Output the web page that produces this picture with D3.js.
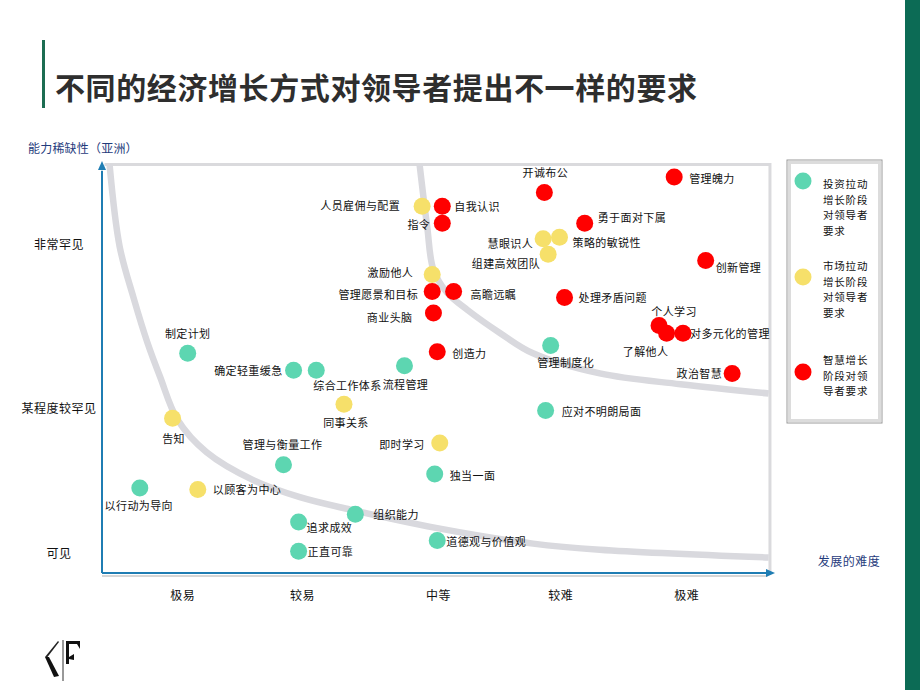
<!DOCTYPE html>
<html><head><meta charset="utf-8">
<script src="https://cdn.jsdelivr.net/npm/d3@7"></script>
<style>
body{margin:0;background:#fff}
svg{display:block}
text{font-family:"Noto Sans CJK SC","Noto Sans",sans-serif}
</style>
</head><body>
<svg id="c" width="920" height="690"></svg>
<script>
// ---------- data ----------
const titleText = "不同的经济增长方式对领导者提出不一样的要求";
const yAxisTitle = "能力稀缺性（亚洲）";
const xAxisTitle = "发展的难度";
const xTickLabels = ["极易", "较易", "中等", "较难", "极难"];
const xTickValues = [1, 1.95, 3.03, 4, 5];
const yTickLabels = ["可见", "某程度较罕见", "非常罕见"];
const yTickValues = [1, 1.94, 3];

const seriesKeys = ["invest", "market", "wisdom"];
const legendLines = [
  ["投资拉动", "增长阶段", "对领导者", "要求"],
  ["市场拉动", "增长阶段", "对领导者", "要求"],
  ["智慧增长", "阶段对领", "导者要求"]
];

// 投资拉动增长阶段对领导者要求
const investLabels = ["制定计划", "确定轻重缓急", "综合工作体系", "流程管理", "管理与衡量工作", "以行动为导向", "追求成效", "正直可靠", "组织能力", "道德观与价值观", "独当一面", "应对不明朗局面", "管理制度化"];
const investX = [1.04, 1.88, 2.06, 2.76, 1.80, 0.66, 1.92, 1.92, 2.37, 3.02, 3.00, 3.88, 3.92];
const investY = [2.29, 2.18, 2.18, 2.21, 1.57, 1.42, 1.20, 1.01, 1.25, 1.08, 1.51, 1.92, 2.34];

// 市场拉动增长阶段对领导者要求
const marketLabels = ["告知", "以顾客为中心", "同事关系", "即时学习", "人员雇佣与配置", "激励他人", "慧眼识人", "策略的敏锐性", "组建高效团队"];
const marketX = [0.92, 1.12, 2.28, 3.04, 2.90, 2.98, 3.86, 3.99, 3.90];
const marketY = [1.87, 1.41, 1.96, 1.71, 3.24, 2.80, 3.03, 3.04, 2.93];

// 智慧增长阶段对领导者要求
const wisdomLabels = ["自我认识", "指令", "开诚布公", "管理魄力", "勇于面对下属", "创新管理", "管理愿景和目标", "高瞻远瞩", "商业头脑", "创造力", "处理矛盾问题", "个人学习", "了解他人", "对多元化的管理", "政治智慧"];
const wisdomX = [3.06, 3.06, 3.87, 4.90, 4.19, 5.15, 2.98, 3.15, 2.99, 3.02, 4.03, 4.78, 4.84, 4.97, 5.36];
const wisdomY = [3.24, 3.13, 3.33, 3.43, 3.13, 2.89, 2.69, 2.69, 2.55, 2.30, 2.65, 2.47, 2.42, 2.42, 2.16];

// boundary curves (difficulty, scarcity)
const curve1X = [0.42, 0.50, 0.61, 0.72, 0.82, 0.96, 1.19, 1.56, 1.93, 2.33, 3.02, 3.78, 4.31, 5.65];
const curve1Y = [3.51, 2.98, 2.65, 2.36, 2.14, 1.86, 1.65, 1.47, 1.36, 1.28, 1.16, 1.06, 1.02, 0.97];
const curve2X = [2.88, 2.94, 2.99, 3.10, 3.26, 3.52, 3.78, 4.31, 4.95, 5.65];
const curve2Y = [3.51, 3.11, 2.83, 2.68, 2.57, 2.42, 2.29, 2.16, 2.09, 2.03];

// ---------- layout / style ----------
const colors = { invest: "#5dd6b1", market: "#f6e06a", wisdom: "#ff0000" };
const labelPlace = {
  "制定计划": ["middle", 0, -20], "确定轻重缓急": ["end", -11, 0], "综合工作体系": ["start", -3, 15],
  "流程管理": ["middle", 1, 18], "管理与衡量工作": ["middle", -1, -21], "以行动为导向": ["middle", -1, 17],
  "追求成效": ["start", 8, 5], "正直可靠": ["start", 9, 0], "组织能力": ["start", 18, 0],
  "道德观与价值观": ["start", 9, 0], "独当一面": ["start", 15, 1], "应对不明朗局面": ["start", 16, 0],
  "管理制度化": ["middle", 15, 16],
  "告知": ["middle", 1, 20], "以顾客为中心": ["start", 15, 0], "同事关系": ["middle", 2, 18],
  "即时学习": ["end", -15, 1], "人员雇佣与配置": ["end", -22, -1], "激励他人": ["end", -19, -2],
  "慧眼识人": ["end", -10, 4], "策略的敏锐性": ["start", 13, 5], "组建高效团队": ["end", -8, 9],
  "自我认识": ["start", 12, 0], "指令": ["end", -12, 1], "开诚布公": ["middle", 1, -20],
  "管理魄力": ["start", 15, 1], "勇于面对下属": ["start", 13, -6], "创新管理": ["start", 10, 7],
  "管理愿景和目标": ["end", -14, 3], "高瞻远瞩": ["start", 17, 3], "商业头脑": ["end", -21, 4],
  "创造力": ["start", 15, 1], "处理矛盾问题": ["start", 14, -1], "个人学习": ["middle", 15, -14],
  "了解他人": ["middle", -21, 18], "对多元化的管理": ["start", 7, 0], "政治智慧": ["end", -10, 0]
};

const svg = d3.select("#c");
const x = d3.scaleLinear().domain([0.36, 5.7]).range([102, 775]);
const y = d3.scaleLinear().domain([0.87, 3.52]).range([573, 163]);

// right decorative bar
svg.append("rect").attr("x", 905).attr("y", 0).attr("width", 15).attr("height", 690).attr("fill", "#0c6b55");
// title
svg.append("rect").attr("x", 42).attr("y", 40).attr("width", 3).attr("height", 68).attr("fill", "#1c6d52");
svg.append("text").attr("x", 55).attr("y", 86).attr("dominant-baseline", "central")
  .attr("font-size", 30).attr("font-weight", 700).attr("fill", "#2e2e2e").attr("letter-spacing", 0.6)
  .text(titleText);

// plot frame
svg.append("path")
  .attr("d", `M${x(0.38)},${y(3.51)}H${x(5.66)}V${y(0.87)}`)
  .attr("fill", "none").attr("stroke", "#dadadd").attr("stroke-width", 3);

// curves
const line = d3.line().x(d => x(d[0])).y(d => y(d[1])).curve(d3.curveCatmullRom.alpha(0.5));
[[curve1X, curve1Y], [curve2X, curve2Y]].forEach(([cx, cy]) => {
  svg.append("path").attr("d", line(cx.map((v, i) => [v, cy[i]])))
    .attr("fill", "none").attr("stroke", "#d9d9de").attr("stroke-width", 6.5).attr("stroke-linecap", "butt");
});

// axes
const axisColor = "#1f7db3";
svg.append("line").attr("x1", x(0.36)).attr("x2", x(5.64)).attr("y1", y(0.87) + 3).attr("y2", y(0.87) + 3)
  .attr("stroke", "#d6d6d6").attr("stroke-width", 2);
svg.append("line").attr("x1", x(0.36)).attr("x2", x(5.66)).attr("y1", y(0.87)).attr("y2", y(0.87))
  .attr("stroke", axisColor).attr("stroke-width", 2);
svg.append("line").attr("x1", x(0.36)).attr("x2", x(0.36)).attr("y1", y(0.87)).attr("y2", y(3.47))
  .attr("stroke", axisColor).attr("stroke-width", 2);
svg.append("path").attr("d", `M${x(5.7)},${y(0.87)}l-9,-4v8z`).attr("fill", axisColor);
svg.append("path").attr("d", `M${x(0.36)},${y(3.52) - 2}l-4,9h8z`).attr("fill", axisColor);

// tick labels
svg.selectAll(".xt").data(xTickLabels).join("text")
  .attr("x", (d, i) => x(xTickValues[i])).attr("y", 594)
  .attr("text-anchor", "middle").attr("dominant-baseline", "central")
  .attr("font-size", 12).attr("letter-spacing", 0.5).attr("fill", "#111").text(d => d);
svg.selectAll(".yt").data(yTickLabels).join("text")
  .attr("x", 59).attr("y", (d, i) => y(yTickValues[i]))
  .attr("text-anchor", "middle").attr("dominant-baseline", "central")
  .attr("font-size", 12).attr("letter-spacing", 0.5).attr("fill", "#111").text(d => d);
// axis titles
svg.append("text").attr("x", 28).attr("y", 147).attr("dominant-baseline", "central")
  .attr("font-size", 12).attr("letter-spacing", 0.2).attr("fill", "#1f3b7c").text(yAxisTitle);
svg.append("text").attr("x", 849).attr("y", 560).attr("text-anchor", "middle").attr("dominant-baseline", "central")
  .attr("font-size", 12).attr("letter-spacing", 0.5).attr("fill", "#1f3b7c").text(xAxisTitle);

// points
const series = [
  { key: "invest", labels: investLabels, xs: investX, ys: investY },
  { key: "market", labels: marketLabels, xs: marketX, ys: marketY },
  { key: "wisdom", labels: wisdomLabels, xs: wisdomX, ys: wisdomY }
];
const pts = series.flatMap(s => s.labels.map((l, i) => ({ key: s.key, label: l, vx: s.xs[i], vy: s.ys[i] })));
svg.append("g").selectAll("circle").data(pts).join("circle")
  .attr("cx", d => x(d.vx)).attr("cy", d => y(d.vy)).attr("r", 8.5)
  .attr("fill", d => colors[d.key]);
svg.append("g").selectAll("text").data(pts).join("text")
  .attr("x", d => x(d.vx) + labelPlace[d.label][1])
  .attr("y", d => y(d.vy) + labelPlace[d.label][2])
  .attr("text-anchor", d => labelPlace[d.label][0])
  .attr("dominant-baseline", "central")
  .attr("font-size", 11).attr("letter-spacing", 0.4).attr("fill", "#111")
  .text(d => d.label);

// legend
const lg = svg.append("g");
lg.append("rect").attr("x", 787).attr("y", 160).attr("width", 95).attr("height", 263)
  .attr("fill", "#fff").attr("stroke", "#9a9a9a").attr("stroke-width", 1);
lg.append("rect").attr("x", 789.5).attr("y", 162.5).attr("width", 90).attr("height", 258)
  .attr("fill", "none").attr("stroke", "#dcdcdc").attr("stroke-width", 3);
const legendDot = [181, 277, 372];
const legendTextMid = [207, 289, 375];
const legendStep = 15.4;
seriesKeys.forEach((k, i) => {
  lg.append("circle").attr("cx", 803).attr("cy", legendDot[i]).attr("r", 8.5).attr("fill", colors[k]);
  const n = legendLines[i].length;
  lg.append("g").selectAll("text").data(legendLines[i]).join("text")
    .attr("x", 823).attr("y", (d, j) => legendTextMid[i] + (j - (n - 1) / 2) * legendStep)
    .attr("dominant-baseline", "central").attr("font-size", 10.5).attr("letter-spacing", 0.8)
    .attr("fill", "#111").text(d => d);
});

// logo
const logo = svg.append("g");
logo.append("line").attr("x1", 63).attr("x2", 63).attr("y1", 640).attr("y2", 681).attr("stroke", "#333").attr("stroke-width", 1);
logo.append("path").attr("d", "M58,641 L45,657 L47.5,657 L59,642 Z").attr("fill", "#222");
logo.append("path").attr("d", "M45,657 L54,677 L59,676 L49,657 Z").attr("fill", "#111");
logo.append("path").attr("d", "M66,641 H80 L80,649 L77,644 H69 V657 L74,654 V660 L69,659 V664 H66 Z").attr("fill", "#111");
</script>
</body></html>
